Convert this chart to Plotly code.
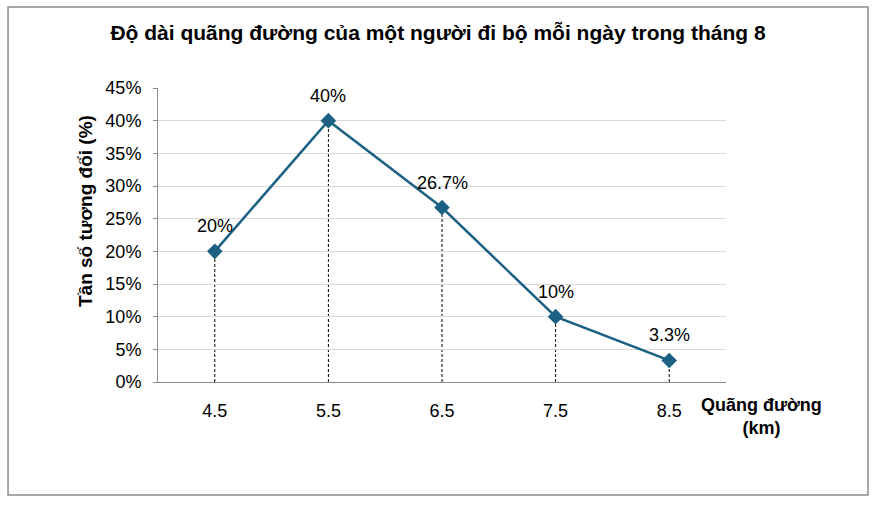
import plotly.graph_objects as go

categories = ["4.5", "5.5", "6.5", "7.5", "8.5"]
values = [20, 40, 26.7, 10, 3.3]
labels = ["20%", "40%", "26.7%", "10%", "3.3%"]
y_ticks = [0, 5, 10, 15, 20, 25, 30, 35, 40, 45]
y_tick_text = [f"{v}%" for v in y_ticks]

LINE = "#1c6184"
FONT = "Liberation Sans, Arial, sans-serif"

fig = go.Figure()
fig.add_trace(go.Scatter(
    x=categories, y=values, mode="lines+markers",
    line=dict(color=LINE, width=2.5),
    marker=dict(symbol="diamond", size=12, color=LINE),
    hoverinfo="skip", showlegend=False,
))

shapes = []
for i, v in enumerate(values):
    shapes.append(dict(type="line", xref="x", yref="y", x0=i, x1=i, y0=0, y1=v,
                       line=dict(color="black", width=1, dash="3px,2px"), layer="below"))
# outer border
shapes.append(dict(type="rect", xref="paper", yref="paper",
                   x0=-0.264, x1=1.25, y0=-0.384, y1=1.2755,
                   line=dict(color="#8c8c8c", width=1.5)))

annotations = []
for i, (v, t) in enumerate(zip(values, labels)):
    annotations.append(dict(x=i, y=v, xref="x", yref="y", text=t, showarrow=False,
                            yshift=25, font=dict(family=FONT, size=18, color="black")))
annotations.append(dict(xref="paper", yref="paper", x=(761 - 158) / 568,
                        y=(382 - 416) / 294,
                        text="<b>Quãng đường<br>(km)</b>", showarrow=False,
                        font=dict(family=FONT, size=18, color="black"),
                        align="center", yanchor="middle", xanchor="center"))
annotations.append(dict(xref="paper", yref="paper", x=(85 - 158) / 568,
                        y=(382 - 211) / 294, textangle=-90,
                        text="<b>Tần số tương đối (%)</b>", showarrow=False,
                        font=dict(family=FONT, size=19, color="black"),
                        yanchor="middle", xanchor="center"))

fig.update_layout(
    width=873, height=505,
    margin=dict(l=158, r=147, t=88, b=123),
    paper_bgcolor="white", plot_bgcolor="white",
    title=dict(text="<b>Độ dài quãng đường của một người đi bộ mỗi ngày trong tháng 8</b>",
               x=438 / 873, xanchor="center", y=1 - 33 / 505, yanchor="middle",
               font=dict(family=FONT, size=21, color="black")),
    shapes=shapes, annotations=annotations,
    font=dict(family=FONT, size=18, color="black"),
)
fig.update_xaxes(type="category", range=[-0.5, 4.5], showline=True, linecolor="#8c8c8c",
                 linewidth=1, showgrid=False, ticks="", tickfont=dict(size=18),
                 ticklabelstandoff=12)
fig.update_yaxes(range=[0, 45], tickvals=y_ticks, ticktext=y_tick_text,
                 showline=True, linecolor="#8c8c8c", linewidth=1,
                 gridcolor="#d9d9d9", gridwidth=1, ticks="outside", ticklen=4,
                 tickcolor="#8c8c8c", tickfont=dict(size=18), ticklabelstandoff=8)

fig.write_html("out.html")
